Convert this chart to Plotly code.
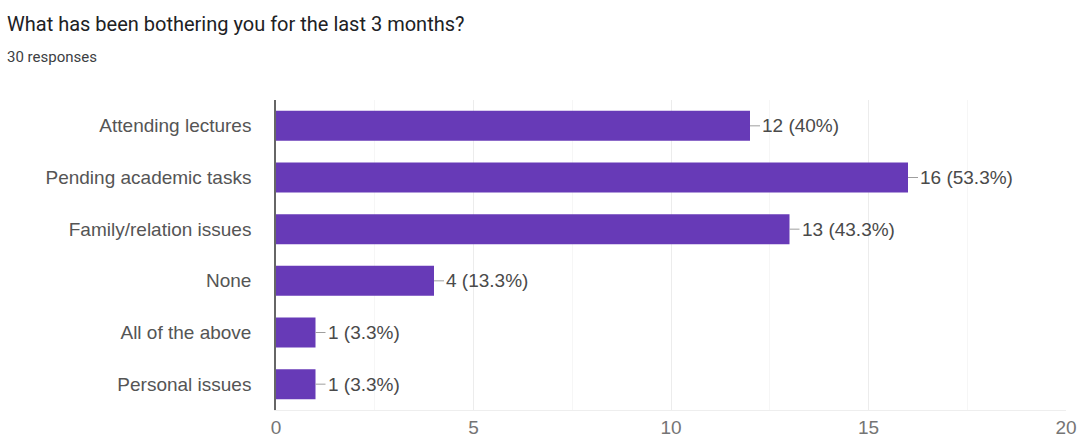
import plotly.graph_objects as go

# Survey results: "What has been bothering you for the last 3 months?"
categories = [
    "Attending lectures",
    "Pending academic tasks",
    "Family/relation issues",
    "None",
    "All of the above",
    "Personal issues",
]
counts = [12, 16, 13, 4, 1, 1]
total_responses = 30
x_ticks = [0, 5, 10, 15, 20]

BAR_COLOR = "#673ab7"
LABEL_FONT = "Liberation Sans, Arial, sans-serif"


def pct_label(n):
    p = round(100 * n / total_responses, 1)
    return f"{n} ({p:g}%)"


fig = go.Figure(
    go.Bar(
        x=counts,
        y=categories,
        orientation="h",
        marker=dict(color=BAR_COLOR, line=dict(width=0)),
        hoverinfo="skip",
    )
)

# value labels with a short leader line from the bar end
for cat, n in zip(categories, counts):
    fig.add_annotation(
        x=n, y=cat, xref="x", yref="y",
        text=pct_label(n),
        showarrow=True, arrowhead=0, arrowwidth=1, arrowcolor="#9e9e9e",
        ax=10, ay=0, standoff=0, startstandoff=0,
        xanchor="left", yanchor="middle",
        font=dict(family=LABEL_FONT, size=19, color="#4a4a4a"),
    )

# title and response count
fig.add_annotation(
    text="What has been bothering you for the last 3 months?",
    xref="paper", yref="paper", x=-271 / 790, y=1 + 76 / 310,
    xanchor="left", yanchor="middle", showarrow=False,
    font=dict(family="Roboto, sans-serif", size=20, color="#202124"),
)
fig.add_annotation(
    text="30 responses",
    xref="paper", yref="paper", x=-271 / 790, y=1 + 43 / 310,
    xanchor="left", yanchor="middle", showarrow=False,
    font=dict(family="Roboto, sans-serif", size=15, color="#3c4043"),
)

fig.update_layout(
    width=1081, height=441,
    margin=dict(l=276, r=15, t=100, b=31),
    paper_bgcolor="white", plot_bgcolor="white",
    bargap=0.42,
    showlegend=False,
    xaxis=dict(
        range=[0, 20], tickvals=x_ticks, ticktext=[str(t) for t in x_ticks],
        showgrid=True, gridcolor="#ececec", gridwidth=1,
        minor=dict(dtick=2.5, showgrid=True, gridcolor="#f6f6f6"),
        zeroline=False, showline=True, linecolor="#eeeeee", mirror=False,
        tickfont=dict(family=LABEL_FONT, size=19, color="#757575"),
        ticks="", ticklabelstandoff=0, automargin=False, fixedrange=True,
    ),
    yaxis=dict(
        categoryorder="array", categoryarray=categories[::-1],
        showgrid=False, zeroline=False,
        showline=True, linecolor="#666666", linewidth=1.5,
        tickfont=dict(family=LABEL_FONT, size=19, color="#555555"),
        ticks="", ticklabelstandoff=19, automargin=False, fixedrange=True,
    ),
)

fig.write_html("out.html")
